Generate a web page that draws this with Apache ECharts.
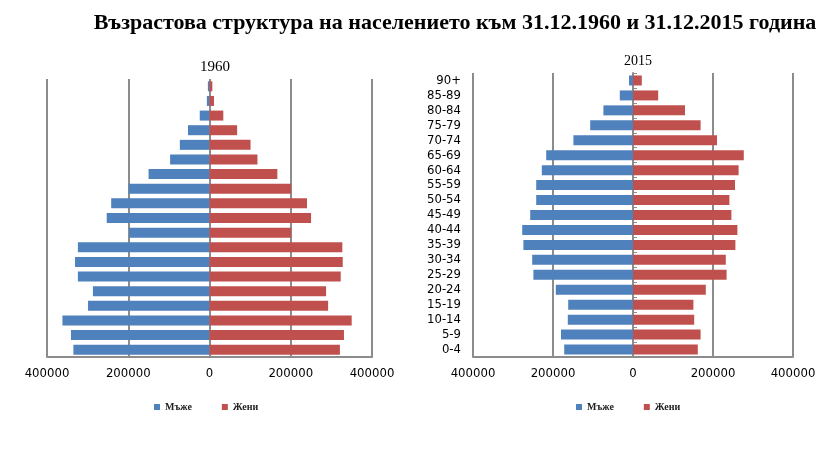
<!DOCTYPE html>
<html><head><meta charset="utf-8">
<script src="https://cdn.jsdelivr.net/npm/echarts@6/dist/echarts.min.js"></script>
<style>html,body{margin:0;padding:0;background:#fff}#c{width:829px;height:466px}</style>
</head><body><div id="c"></div>
<script>
var ageGroups = ['0-4','5-9','10-14','15-19','20-24','25-29','30-34','35-39','40-44','45-49','50-54','55-59','60-64','65-69','70-74','75-79','80-84','85-89','90+'];
var men1960   = [335000,341000,362000,299000,287000,324000,331000,324000,198000,253000,242000,199000,150000,97000,73000,53000,24000,6500,4000];
var women1960 = [321000,331000,350000,292000,287000,323000,328000,327000,201000,250000,240000,201000,167000,118000,101000,68000,34000,11000,7000];
var men2015   = [172000,180000,163000,162000,193000,249000,252000,274000,277000,257000,242000,242000,228000,217000,149000,107000,74000,33000,10000];
var women2015 = [162000,169000,153000,151000,182000,234000,232000,256000,261000,246000,241000,255000,264000,277000,210000,169000,130000,63000,22000];
var xTicks = [-400000,-200000,0,200000,400000];
var seriesNames = ['Мъже','Жени'];
var mainTitle = 'Възрастова структура на населението към 31.12.1960 и 31.12.2015 година';
var subTitles = ['1960','2015'];

var BLUE = '#4F81BD', RED = '#C0504D', GRID = '#8c8c8c';
var FONT = '"Liberation Serif", "Times New Roman", serif';
var NARROW = '"Liberation Sans Narrow", "DejaVu Sans Condensed", "Liberation Sans", sans-serif';
function neg(a){ return a.map(function(v){ return -v; }); }
function xAxisFor(gi){
  return {
    gridIndex: gi, type: 'value', min: xTicks[0], max: xTicks[xTicks.length-1], interval: 200000,
    axisLine: {show: true, onZero: false, lineStyle: {color: GRID, width: 2}},
    axisTick: {show: false},
    splitLine: {show: true, lineStyle: {color: GRID, width: 2}},
    axisLabel: {color: '#000', fontFamily: NARROW, fontSize: 13, margin: 10,
      formatter: function(v){ return String(Math.abs(v)); }}
  };
}
var chart = echarts.init(document.getElementById('c'));
chart.setOption({
  animation: false,
  backgroundColor: '#fff',
  title: [
    {text: mainTitle, left: 450, top: 7, textAlign: 'center',
     textStyle: {fontFamily: FONT, fontWeight: 'bold', fontSize: 22, color: '#000'}},
    {text: subTitles[0], left: 210, top: 55, textAlign: 'center',
     textStyle: {fontFamily: FONT, fontWeight: 'normal', fontSize: 15, color: '#000'}},
    {text: subTitles[1], left: 633, top: 49, textAlign: 'center',
     textStyle: {fontFamily: FONT, fontWeight: 'normal', fontSize: 14, color: '#000'}}
  ],
  legend: [
    {data: seriesNames, left: 149, top: 397, icon: 'rect', itemWidth: 6, itemHeight: 6, itemGap: 30,
     textStyle: {fontFamily: FONT, fontSize: 10, fontWeight: 'bold', color: '#222'}},
    {data: seriesNames, left: 571, top: 397, icon: 'rect', itemWidth: 6, itemHeight: 6, itemGap: 30,
     textStyle: {fontFamily: FONT, fontSize: 10, fontWeight: 'bold', color: '#222'}}
  ],
  grid: [
    {left: 47, right: 457, top: 79, bottom: 109},
    {left: 473, right: 36, top: 73, bottom: 109}
  ],
  xAxis: [xAxisFor(0), xAxisFor(1)],
  yAxis: [
    {gridIndex: 0, type: 'category', data: ageGroups, axisLine: {show: false, onZero: false},
     axisTick: {show: false}, axisLabel: {show: false}, splitLine: {show: false}},
    {gridIndex: 1, type: 'category', data: ageGroups, axisLine: {show: false, onZero: false},
     axisTick: {show: false}, splitLine: {show: false},
     axisLabel: {color: '#000', fontFamily: NARROW, fontSize: 13, margin: 12, interval: 0}},
    {gridIndex: 1, type: 'category', data: ageGroups, axisLine: {show: true, onZero: true, lineStyle: {color: GRID, width: 2}},
     axisTick: {show: true, length: 4, interval: 0, lineStyle: {color: GRID, width: 1}}, axisLabel: {show: false}, splitLine: {show: false}}
  ],
  series: [
    {name: seriesNames[0], type: 'bar', xAxisIndex: 0, yAxisIndex: 0, stack: 'a', data: neg(men1960),
     barWidth: 10, itemStyle: {color: BLUE}},
    {name: seriesNames[1], type: 'bar', xAxisIndex: 0, yAxisIndex: 0, stack: 'a', data: women1960,
     barWidth: 10, itemStyle: {color: RED}},
    {name: seriesNames[0], type: 'bar', xAxisIndex: 1, yAxisIndex: 1, stack: 'b', data: neg(men2015),
     barWidth: 10, itemStyle: {color: BLUE}},
    {name: seriesNames[1], type: 'bar', xAxisIndex: 1, yAxisIndex: 1, stack: 'b', data: women2015,
     barWidth: 10, itemStyle: {color: RED}}
  ]
});
</script></body></html>
